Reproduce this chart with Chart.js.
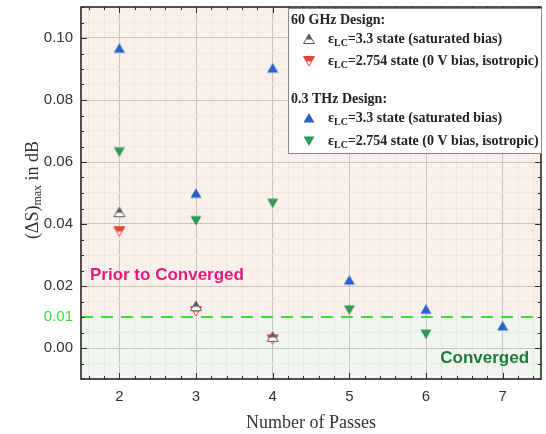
<!DOCTYPE html>
<html>
<head>
<meta charset="utf-8">
<script src="https://cdn.jsdelivr.net/npm/chart.js@4.4.1/dist/chart.umd.min.js"></script>
<style>
  html, body { margin: 0; padding: 0; background: #fff; }
  #wrap { width: 546px; height: 434px; position: relative; }
</style>
</head>
<body>
<div id="wrap"><canvas id="myChart" width="546" height="434"></canvas></div>
<script>
// values
const passes = [2, 3, 4, 5, 6, 7];
const thz33 = [0.0967, 0.0499, 0.0903, 0.0219, 0.0125, 0.0071];
const thz2754 = [0.0633, 0.0411, 0.0467, 0.0123, 0.0045];
const ghz33 = [0.0438, 0.0135, 0.0036];
const ghz2754 = [0.0377, 0.0119, 0.0028];
const threshold = 0.01;
const xRange = [1.5, 7.5];
const yRange = [-0.01, 0.11];

const blue = '#2a62cc', green = '#2f9955', gray = '#5c5c5c', red = '#e8463c';

function pts(vals) {
    return vals.map((v, i) => ({ x: passes[i], y: v }));
}

// half-filled triangles for the 60 GHz markers
function triangle(color, down, half) {
    const c = document.createElement('canvas');
    c.width = 14; c.height = 14;
    const g = c.getContext('2d');
    const path = () => {
        g.beginPath();
        if (down) { g.moveTo(1.5, 2.5); g.lineTo(12.5, 2.5); g.lineTo(7, 12); }
        else { g.moveTo(7, 2); g.lineTo(12.5, 11.5); g.lineTo(1.5, 11.5); }
        g.closePath();
    };
    if (half) {
        path(); g.fillStyle = '#fff'; g.fill();
        g.save(); g.beginPath(); g.rect(0, 0, 14, 7.5); g.clip();
        path(); g.fillStyle = color; g.fill(); g.restore();
        path(); g.strokeStyle = color; g.lineWidth = 1; g.stroke();
    } else {
        path(); g.fillStyle = color; g.fill();
    }
    return c;
}

const mk = {
    gUp: triangle(gray, false, true),
    rDown: triangle(red, true, true),
    bUp: triangle(blue, false, false),
    gDown: triangle(green, true, false)
};

const regionBg = {
    id: 'regionBg',
    beforeDraw(chart) {
        const { ctx, chartArea: a, scales: { y } } = chart;
        const yt = y.getPixelForValue(threshold);
        ctx.save();
        ctx.fillStyle = '#f8f0eb';
        ctx.fillRect(a.left, a.top, a.right - a.left, yt - a.top);
        ctx.fillStyle = '#eef6ee';
        ctx.fillRect(a.left, yt, a.right - a.left, a.bottom - yt);
        ctx.restore();
    }
};

function isMajorY(v) { return Math.abs(Math.round(v * 1000) % 20) === 0; }

const frame = {
    id: 'frame',
    afterDraw(chart) {
        const { ctx, chartArea: a, scales: { x, y } } = chart;
        ctx.save();
        ctx.strokeStyle = '#2a2a2a';
        ctx.lineWidth = 1;
        x.ticks.forEach(t => {
            const px = Math.round(x.getPixelForValue(t.value)) + 0.5;
            const len = Number.isInteger(Math.round(t.value * 1000) / 1000) ? 6 : 3;
            ctx.beginPath();
            ctx.moveTo(px, a.bottom); ctx.lineTo(px, a.bottom - len);
            ctx.moveTo(px, a.top); ctx.lineTo(px, a.top + len);
            ctx.stroke();
        });
        y.ticks.forEach(t => {
            const py = Math.round(y.getPixelForValue(t.value)) + 0.5;
            const len = isMajorY(t.value) ? 6 : 3;
            ctx.beginPath();
            ctx.moveTo(a.left, py); ctx.lineTo(a.left + len, py);
            ctx.moveTo(a.right, py); ctx.lineTo(a.right - len, py);
            ctx.stroke();
        });
        ctx.lineWidth = 1.6;
        ctx.strokeRect(a.left, a.top, a.right - a.left, a.bottom - a.top);

        // y axis title with subscript
        ctx.save();
        ctx.translate(33, 190);
        ctx.rotate(-Math.PI / 2);
        ctx.fillStyle = '#333';
        ctx.textBaseline = 'middle';
        const parts = [['(\u0394S)', '18px "Liberation Serif"', 0], ['max', '12px "Liberation Serif"', 5], [' in dB', '18px "Liberation Serif"', 0]];
        let w = 0;
        parts.forEach(p => { ctx.font = p[1]; w += ctx.measureText(p[0]).width; });
        let cx = -w / 2;
        parts.forEach(p => { ctx.font = p[1]; ctx.fillText(p[0], cx, p[2]); cx += ctx.measureText(p[0]).width; });
        ctx.restore();

        // legend box
        const lx = 288, ly = 8, lw = 253, lh = 145;
        ctx.fillStyle = '#fff';
        ctx.fillRect(lx, ly, lw, lh);
        ctx.strokeStyle = '#888';
        ctx.lineWidth = 1;
        ctx.strokeRect(lx + 0.5, ly + 0.5, lw, lh);
        ctx.fillStyle = '#222';
        ctx.textBaseline = 'middle';
        ctx.font = 'bold 14px "Liberation Serif"';
        ctx.fillText('60 GHz Design:', lx + 3, ly + 12);
        ctx.fillText('0.3 THz Design:', lx + 3, ly + 91);
        const rows = [
            [mk.gUp, '=3.3 state (saturated bias)', ly + 31],
            [mk.rDown, '=2.754 state (0 V bias, isotropic)', ly + 53],
            [mk.bUp, '=3.3 state (saturated bias)', ly + 110],
            [mk.gDown, '=2.754 state (0 V bias, isotropic)', ly + 133]
        ];
        rows.forEach(r => {
            ctx.drawImage(r[0], lx + 14, r[2] - 7);
            let tx = lx + 40;
            ctx.font = 'bold 14px "Liberation Serif"';
            ctx.fillText('\u03b5', tx, r[2]);
            tx += ctx.measureText('\u03b5').width;
            ctx.font = 'bold 10px "Liberation Serif"';
            ctx.fillText('LC', tx, r[2] + 4);
            tx += ctx.measureText('LC').width;
            ctx.font = 'bold 14px "Liberation Serif"';
            ctx.fillText(r[1], tx, r[2]);
        });

        // region labels
        ctx.font = 'bold 17px "Liberation Sans"';
        ctx.textAlign = 'left';
        ctx.fillStyle = '#e8197c';
        ctx.fillText('Prior to Converged', x.getPixelForValue(1.617), y.getPixelForValue(0.0235));
        ctx.textAlign = 'right';
        ctx.fillStyle = '#1c7a3e';
        ctx.fillText('Converged', x.getPixelForValue(7.344), y.getPixelForValue(-0.0032));
        ctx.restore();
    }
};

new Chart(document.getElementById('myChart').getContext('2d'), {
    type: 'scatter',
    data: {
        datasets: [
            {
                type: 'line',
                label: 'threshold',
                data: [{ x: xRange[0], y: threshold }, { x: xRange[1], y: threshold }],
                borderColor: '#3ddc3d',
                borderWidth: 2,
                borderDash: [12, 8],
                pointRadius: 0
            },
            { label: '60 GHz 3.3', data: pts(ghz33), pointStyle: mk.gUp },
            { label: '60 GHz 2.754', data: pts(ghz2754), pointStyle: mk.rDown },
            { label: '0.3 THz 3.3', data: pts(thz33), pointStyle: mk.bUp },
            { label: '0.3 THz 2.754', data: pts(thz2754), pointStyle: mk.gDown }
        ]
    },
    options: {
        responsive: false,
        animation: false,
        layout: { padding: { top: 7, right: 3, left: 0, bottom: 0 } },
        plugins: { legend: { display: false }, tooltip: { enabled: false } },
        scales: {
            x: {
                type: 'linear',
                min: xRange[0],
                max: xRange[1],
                afterBuildTicks: s => {
                    const t = [];
                    for (let i = 8; i <= 37; i++) t.push({ value: i / 5 });
                    s.ticks = t;
                },
                afterFit: s => { s.height = 55; s.paddingLeft = 0; s.paddingRight = 0; },
                grid: {
                    drawTicks: false,
                    color: c => Number.isInteger(Math.round(c.tick.value * 1000) / 1000) ? '#cbc3bf' : '#eee6e1'
                },
                border: { display: false },
                ticks: {
                    autoSkip: false,
                    maxRotation: 0,
                    padding: 9,
                    color: '#333',
                    font: { family: 'Liberation Sans', size: 15 },
                    callback: v => Number.isInteger(Math.round(v * 1000) / 1000) ? String(Math.round(v)) : ''
                },
                title: {
                    display: true,
                    text: 'Number of Passes',
                    color: '#333',
                    font: { family: 'Liberation Serif', size: 18 },
                    padding: { top: 12, bottom: 0 }
                }
            },
            y: {
                type: 'linear',
                min: yRange[0],
                max: yRange[1],
                afterBuildTicks: s => {
                    const t = [];
                    for (let i = -2; i <= 22; i++) t.push({ value: i * 0.005 });
                    s.ticks = t;
                },
                afterFit: s => { s.width = 81; s.paddingTop = 0; s.paddingBottom = 0; },
                grid: {
                    drawTicks: false,
                    color: c => {
                        const v = c.tick.value;
                        if (Math.abs(v - threshold) < 1e-6) return 'rgba(0,0,0,0)';
                        return isMajorY(v) ? '#cbc3bf' : '#eee6e1';
                    }
                },
                border: { display: false },
                ticks: {
                    autoSkip: false,
                    padding: 8,
                    color: c => Math.abs(c.tick.value - threshold) < 1e-6 ? '#3ddc3d' : '#333',
                    font: { family: 'Liberation Sans', size: 15 },
                    callback: v => {
                        if (Math.abs(v - threshold) < 1e-6) return '0.01';
                        if (v >= -1e-6 && v <= 0.1 + 1e-6 && isMajorY(v)) return Math.abs(v).toFixed(2);
                        return '';
                    }
                }
            }
        }
    },
    plugins: [regionBg, frame]
});
</script>
</body>
</html>
